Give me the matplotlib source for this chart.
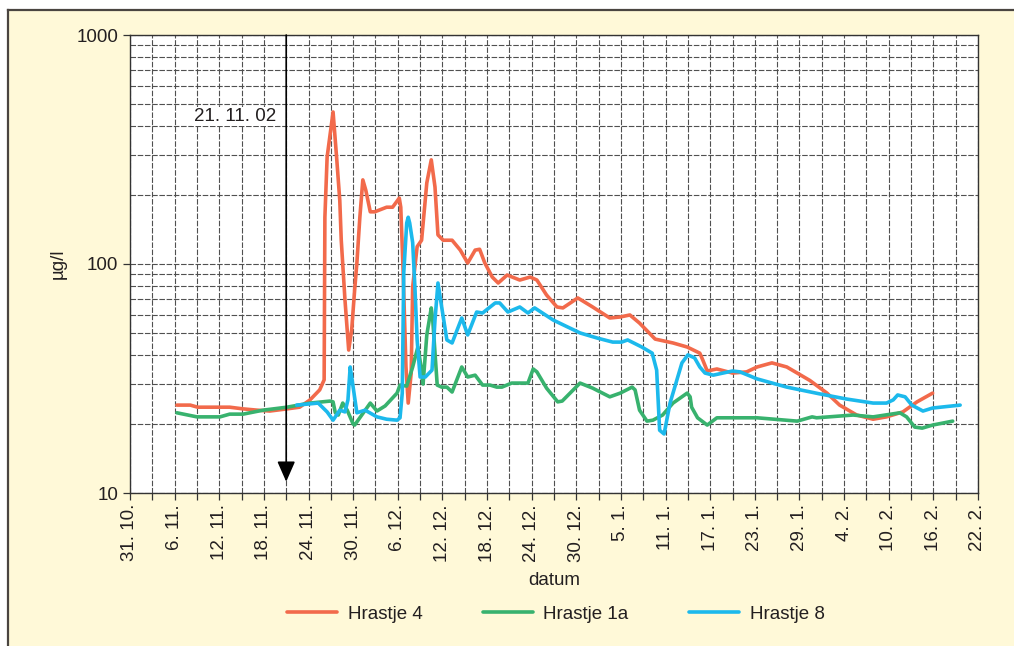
import matplotlib
matplotlib.use("Agg")
import matplotlib.pyplot as plt
from matplotlib.ticker import MultipleLocator, LogLocator, NullFormatter, FixedFormatter, FixedLocator
from matplotlib.lines import Line2D
from matplotlib.patches import Rectangle

plt.rcParams["font.family"] = ["Liberation Sans", "DejaVu Sans"]

# days counted from 31. 10. 2002
tick_days = list(range(0, 115, 6))
tick_labels = ["31. 10.", "6. 11.", "12. 11.", "18. 11.", "24. 11.", "30. 11.",
               "6. 12.", "12. 12.", "18. 12.", "24. 12.", "30. 12.", "5. 1.",
               "11. 1.", "17. 1.", "23. 1.", "29. 1.", "4. 2.", "10. 2.",
               "16. 2.", "22. 2."]

# Hrastje 4
h4_day = [6.3, 8.1, 9.1, 13.4, 15.2, 17.1, 18.8, 21.1, 22.8, 24.2, 25.5, 26.1,
          26.2, 26.5, 27.3, 27.8, 28.2, 28.4, 28.9, 29.4, 29.8, 30.2, 30.5, 30.9,
          31.3, 31.7, 32.3, 32.9, 34.5, 35.3, 36.2, 36.4, 36.7, 37.1, 37.4, 37.8,
          38.0, 38.6, 39.2, 39.9, 40.5, 41.0, 41.4, 42.1, 43.3, 44.4, 45.4, 46.4,
          47.0, 47.7, 48.7, 49.5, 50.7, 52.4, 53.8, 54.7, 56.0, 57.4, 58.2, 60.2,
          62.2, 64.5, 65.9, 67.2, 68.5, 70.6, 73.0, 74.9, 76.6, 77.0, 77.6, 78.9,
          81.0, 82.9, 84.3, 86.3, 88.3, 91.4, 93.7, 95.4, 97.7, 99.9, 101.7, 103.9,
          105.8, 107.9]
h4_val = [24.2, 24.2, 23.7, 23.7, 23.3, 23.0, 22.8, 23.3, 23.7, 25.5, 28.2, 31.2,
          160, 293, 461, 285, 190, 127, 69.6, 42.1, 51.5, 77, 101, 160,
          233, 210, 169, 169, 177, 177, 194, 177, 97, 35.5, 24.7, 33.4,
          79.4, 119, 127, 226, 285, 217, 134, 127, 127, 115, 101, 115,
          116, 101, 87.7, 82.6, 89.5, 85.1, 87.7, 85.1, 73.2, 64.9, 64.3, 71.1,
          64.9, 58.1, 58.7, 59.9, 55.2, 47.0, 45.2, 43.4, 40.8, 38.1, 34.1, 34.8,
          33.4, 33.8, 35.5, 37.0, 35.5, 31.0, 27.3, 24.2, 21.9, 21.0, 21.5, 22.6,
          25.0, 27.3]

# Hrastje 1a
h1a_day = [6.3, 9.0, 12.1, 13.4, 15.2, 17.9, 21.1, 24.2, 26.9, 27.3, 27.6, 28.0,
           28.6, 29.2, 30.0, 30.2, 32.3, 33.2, 34.3, 35.9, 36.3, 37.2, 38.0, 38.7,
           39.2, 39.4, 39.9, 40.5, 40.7, 41.3, 41.9, 42.6, 43.3, 44.6, 45.4, 46.4,
           47.4, 48.4, 49.3, 50.0, 51.3, 53.5, 54.2, 54.7, 56.0, 57.5, 58.1, 60.5,
           62.2, 64.5, 65.9, 67.5, 67.9, 68.5, 69.5, 70.3, 71.6, 73.0, 74.9, 75.3,
           75.5, 76.3, 77.6, 78.9, 84.3, 89.7, 91.7, 92.3, 97.2, 99.9, 103.5, 104.4,
           105.5, 106.5, 107.9, 110.6]
h1a_val = [22.4, 21.5, 21.5, 22.1, 22.1, 23.0, 23.7, 24.7, 25.2, 25.0, 22.4, 21.9,
           24.7, 23.0, 20.0, 19.8, 24.7, 22.8, 24.0, 27.3, 29.6, 29.3, 35.5, 43.4,
           34.4, 29.9, 49.0, 64.3, 56.9, 29.6, 29.0, 29.0, 27.6, 35.5, 32.1, 32.7,
           29.6, 29.6, 29.0, 29.0, 30.2, 30.2, 34.8, 33.8, 28.7, 25.0, 25.2, 30.2,
           28.7, 26.3, 27.3, 29.0, 28.2, 23.0, 20.6, 20.8, 21.9, 24.7, 27.3, 26.3,
           23.7, 21.3, 19.8, 21.3, 21.3, 20.6, 21.5, 21.3, 21.9, 21.5, 22.4, 21.5,
           19.4, 19.2, 19.8, 20.6]

# Hrastje 8
h8_day = [22.4, 25.3, 26.5, 27.3, 28.2, 28.9, 29.3, 29.6, 29.8, 30.5, 31.6, 33.2,
          34.5, 35.9, 36.3, 36.6, 36.8, 37.2, 37.4, 37.6, 38.0, 38.3, 38.6, 39.0,
          39.7, 40.6, 41.0, 41.4, 41.9, 42.6, 43.3, 44.6, 45.4, 46.6, 47.4, 49.1,
          49.7, 50.8, 52.4, 53.5, 54.4, 56.9, 60.5, 62.8, 64.9, 66.1, 66.9, 68.8,
          70.2, 70.8, 71.2, 71.8, 72.6, 74.2, 75.0, 75.9, 76.6, 77.3, 78.4, 81.0,
          82.0, 84.3, 88.3, 92.7, 96.4, 99.9, 101.7, 102.6, 103.2, 104.2, 105.1, 106.6,
          107.9, 111.6]
h8_val = [24.2, 24.7, 22.6, 20.8, 23.0, 22.6, 25.5, 35.5, 32.1, 22.4, 23.0, 21.5,
          21.0, 20.8, 21.3, 27.3, 91.4, 151, 160, 151, 124, 79.4, 46.6, 32.1,
          32.1, 34.4, 56.9, 82.6, 64.9, 46.6, 45.2, 58.1, 49.0, 61.7, 61.1, 67.6,
          67.6, 61.7, 64.9, 61.1, 64.3, 56.9, 50.0, 47.5, 45.6, 45.6, 46.6, 43.4,
          40.8, 34.4, 18.8, 18.1, 24.7, 37.0, 40.1, 38.9, 35.5, 33.4, 32.7, 34.1,
          33.8, 31.5, 29.0, 27.1, 25.7, 24.7, 24.7, 25.5, 26.8, 26.3, 24.2, 22.8,
          23.5, 24.2]

marker_day = 21  # 21. 11. 02

txt = "#231f20"
grid_c = "#505050"

fig = plt.figure(figsize=(10.14, 6.46), dpi=100, facecolor="white")

# yellow background panel with border on left and top
fig.patches.append(Rectangle((8 / 1014, 0), 1 - 8 / 1014, 636 / 646,
                             transform=fig.transFigure, facecolor="#FFF9D8",
                             edgecolor="none", zorder=-10))
fig.lines.append(Line2D([8 / 1014, 8 / 1014], [0, 636 / 646], transform=fig.transFigure,
                        color="#4a4540", lw=1.6, zorder=-9))
fig.lines.append(Line2D([8 / 1014, 1], [636 / 646, 636 / 646], transform=fig.transFigure,
                        color="#4a4540", lw=1.6, zorder=-9))

ax = fig.add_axes([130 / 1014, 1 - 493 / 646, 848 / 1014, 458 / 646])
ax.set_facecolor("white")

line_kw = dict(lw=2.6, solid_joinstyle="round", solid_capstyle="round")
ax.plot(h4_day, h4_val, color="#F26A4B", label="Hrastje 4", zorder=3, **line_kw)
ax.plot(h1a_day, h1a_val, color="#38B26E", label="Hrastje 1a", zorder=3, **line_kw)
ax.plot(h8_day, h8_val, color="#1CB9EC", label="Hrastje 8", zorder=4, **line_kw)

ax.set_yscale("log")
ax.set_ylim(10, 1000)
ax.set_xlim(0, 114)

ax.xaxis.set_major_locator(FixedLocator(tick_days))
ax.xaxis.set_major_formatter(FixedFormatter(tick_labels))
ax.xaxis.set_minor_locator(MultipleLocator(3))
ax.set_yticks([10, 100, 1000])
ax.yaxis.set_major_formatter(FixedFormatter(["10", "100", "1000"]))
ax.yaxis.set_minor_locator(LogLocator(base=10, subs=range(2, 10)))
ax.yaxis.set_minor_formatter(NullFormatter())

for lab in ax.get_xticklabels():
    lab.set_rotation(90)

ax.tick_params(axis="both", which="both", direction="out", length=5, width=0.9,
               color="#333333", labelsize=13.5, labelcolor=txt)
ax.tick_params(axis="y", which="minor", length=0)
ax.tick_params(axis="x", which="major", pad=3)

ax.grid(True, which="both", color=grid_c, lw=0.8, linestyle=(0, (5, 1.5)), zorder=1)
ax.set_axisbelow(True)

for s in ax.spines.values():
    s.set_color("#333333")
    s.set_linewidth(1.0)

ax.set_xlabel("datum", fontsize=13.5, color=txt)
ax.xaxis.set_label_coords(0.5, -0.172)
ax.set_ylabel("µg/l", fontsize=13.5, color=txt)
ax.yaxis.set_label_coords(-0.074, 0.5)

# marker for 21. 11. 02
ax.annotate("", xy=(marker_day, 11.2), xytext=(marker_day, 1000),
            arrowprops=dict(arrowstyle="-|>,head_length=0.5,head_width=0.22",
                            color="black", lw=1.2, mutation_scale=25,
                            shrinkA=0, shrinkB=0), zorder=5)
ax.text(marker_day - 1.4, 440, "21. 11. 02", ha="right", va="center",
        fontsize=13.5, color=txt, zorder=5,
        bbox=dict(facecolor="white", edgecolor="none", pad=1))

fig.legend(loc="center", bbox_to_anchor=(0.548, 1 - 614 / 646), ncol=3,
           frameon=False, fontsize=13.5, handlelength=2.7, handletextpad=0.55,
           columnspacing=3.2, labelcolor=txt)

fig.savefig("out.png", dpi=100, facecolor="white")
